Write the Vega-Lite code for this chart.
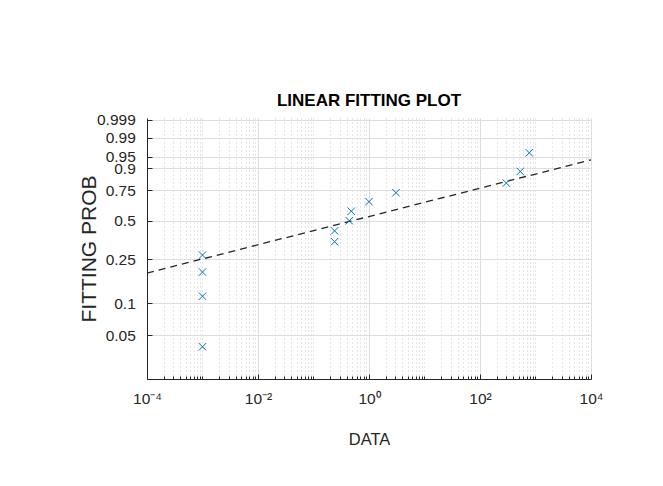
{
  "$schema": "https://vega.github.io/schema/vega-lite/v6.json",
  "width": 444,
  "height": 261,
  "autosize": {"type": "none"},
  "padding": {"left": 147, "top": 118, "right": 72, "bottom": 107},
  "background": "white",
  "config": {
    "font": "Liberation Sans",
    "view": {"stroke": null},
    "axis": {
      "domainColor": "#262626",
      "tickColor": "#262626",
      "labelColor": "#262626",
      "titleColor": "#262626",
      "titleFontWeight": "normal",
      "labelFont": "Liberation Sans",
      "titleFont": "Liberation Sans"
    }
  },
  "title": {
    "text": "LINEAR FITTING PLOT",
    "fontSize": 17,
    "fontWeight": "bold",
    "color": "#000000",
    "anchor": "middle",
    "offset": 3,
    "font": "Liberation Sans"
  },
  "layer": [
    {
      "data": {"values": [
        {"x": 0.0001, "p": 0.19},
        {"x": 10000, "p": 0.938}
      ]},
      "transform": [{"calculate": "log(-log(1-datum.p))", "as": "w"}],
      "mark": {"type": "line", "stroke": "#262626", "strokeDash": [7, 5], "strokeWidth": 1.3},
      "encoding": {
        "x": {
          "field": "x", "type": "quantitative",
          "scale": {"type": "log", "domain": [0.0001, 10000], "nice": false},
          "axis": {
            "orient": "bottom",
            "values": [0.0001, 0.01, 1, 100, 10000],
            "labelExpr": "datum.value < 0.001 ? '10⁻⁴' : datum.value < 0.1 ? '10⁻²' : datum.value < 10 ? '10⁰' : datum.value < 1000 ? '10²' : '10⁴'",
            "title": "DATA",
            "grid": true,
            "gridColor": "#dedede",
            "tickSize": -5,
            "labelFontSize": 15.5,
            "labelPadding": 29.7,
            "labelBaseline": "alphabetic",
            "labelFlush": false,
            "labelOverlap": false,
            "titleFontSize": 16.5,
            "titleX": 222,
            "titleY": 65,
            "titleBaseline": "alphabetic",
            "titleAlign": "center"
          }
        },
        "y": {
          "field": "w", "type": "quantitative",
          "scale": {"domain": [-3.972, 1.978], "nice": false, "zero": false},
          "axis": {
            "orient": "left",
            "values": [-2.9702, -2.25037, -1.2459, -0.36651, 0.32663, 0.83403, 1.09719, 1.52718, 1.93264],
            "labelExpr": "format(1-exp(-exp(datum.value)), '.3~f')",
            "title": "FITTING PROB",
            "grid": true,
            "gridColor": "#dedede",
            "tickSize": -5,
            "labelFontSize": 15.5,
            "labelPadding": 16.7,
            "labelOverlap": false,
            "labelFlush": false,
            "titleFontSize": 21,
            "titleAngle": 270,
            "titleX": -52,
            "titleY": 130.5,
            "titleBaseline": "alphabetic",
            "titleAlign": "center"
          }
        }
      }
    },
    {
      "data": {"values": [
        {"x": 0.001, "p": 0.0385},
        {"x": 0.001, "p": 0.117},
        {"x": 0.001, "p": 0.194},
        {"x": 0.001, "p": 0.272},
        {"x": 0.24, "p": 0.35},
        {"x": 0.24, "p": 0.424},
        {"x": 0.44, "p": 0.501},
        {"x": 0.48, "p": 0.578},
        {"x": 1.0, "p": 0.658},
        {"x": 3.06, "p": 0.732},
        {"x": 298, "p": 0.806},
        {"x": 532, "p": 0.882},
        {"x": 773, "p": 0.962}
      ]},
      "transform": [{"calculate": "log(-log(1-datum.p))", "as": "w"}],
      "mark": {"type": "point", "shape": "M-1,-1L1,1M-1,1L1,-1", "filled": false, "stroke": "#0072BD", "strokeWidth": 1, "size": 56, "opacity": 1},
      "encoding": {
        "x": {
          "field": "x", "type": "quantitative",
          "scale": {"type": "log", "domain": [0.0001, 10000], "nice": false},
          "axis": {
            "orient": "bottom",
            "values": [0.0002, 0.0003, 0.0004, 0.0005, 0.0006, 0.0007, 0.0008, 0.0009, 0.001, 0.002, 0.003, 0.004, 0.005, 0.006, 0.007, 0.008, 0.009, 0.02, 0.03, 0.04, 0.05, 0.06, 0.07, 0.08, 0.09, 0.1, 0.2, 0.3, 0.4, 0.5, 0.6, 0.7, 0.8, 0.9, 2, 3, 4, 5, 6, 7, 8, 9, 10, 20, 30, 40, 50, 60, 70, 80, 90, 200, 300, 400, 500, 600, 700, 800, 900, 1000, 2000, 3000, 4000, 5000, 6000, 7000, 8000, 9000],
            "labels": false,
            "title": null,
            "domain": false,
            "grid": true,
            "gridColor": "#cccccc",
            "gridDash": [1, 3],
            "tickSize": -3
          }
        },
        "y": {
          "field": "w", "type": "quantitative",
          "scale": {"domain": [-3.972, 1.978], "nice": false, "zero": false},
          "axis": null
        }
      }
    }
  ],
  "resolve": {"axis": {"x": "independent", "y": "independent"}}
}
